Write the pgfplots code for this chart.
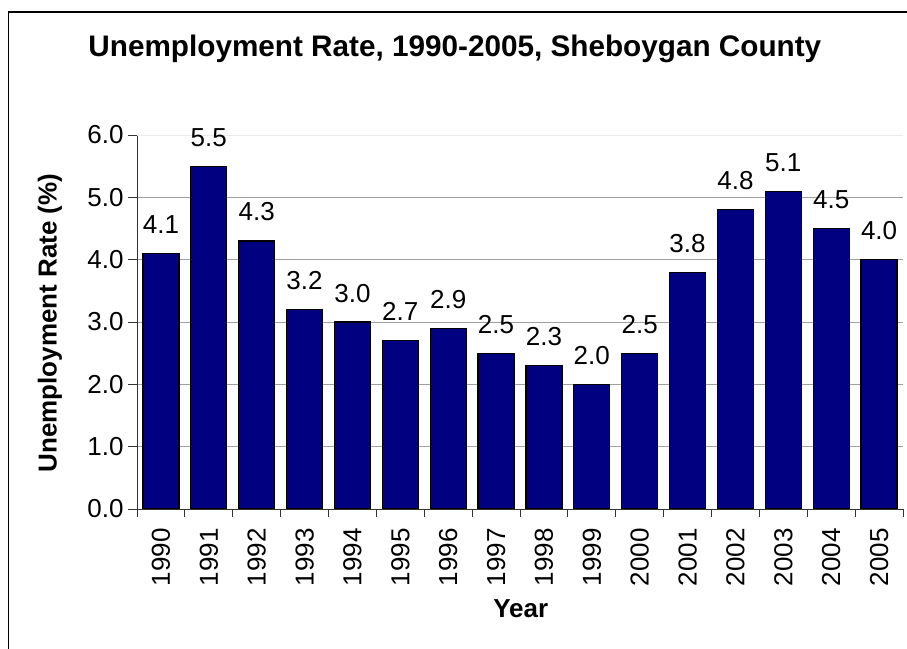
\documentclass[border=0pt]{standalone}
\usepackage{pgfplots}
\pgfplotsset{compat=1.18}
\usepackage{fontspec}
\setmainfont{Liberation Sans}
\newfontfamily\captionserif{Liberation Serif}
\definecolor{barblue}{HTML}{000080}
\definecolor{gridgray}{HTML}{A0A0A0}

\begin{document}
\begin{tikzpicture}
\useasboundingbox (0,0) rectangle (907bp,649bp);

% cut-off document caption above the chart frame
\node[anchor=base west, inner sep=0pt, font=\captionserif\bfseries\fontsize{32.6bp}{36bp}\selectfont]
  at (28bp,666bp) {Figure 1: Unemployment Rate, 1990-2005, Sheboygan County};

% chart frame (right and bottom sides fall outside the page)
\draw[line width=1.4bp] (8.5bp,-20bp) -- (8.5bp,637bp) -- (940bp,637bp);

\begin{axis}[
    at={(137bp,140bp)}, anchor=south west,
    scale only axis,
    width=766bp, height=374bp,
    xmin=-0.5, xmax=15.5,
    ymin=0, ymax=6,
    axis x line*=bottom, axis y line*=left,
    axis line style={black!80, line width=0.8bp},
    ybar, bar width=36bp,
    xtick={0,...,15},
    xticklabels={1990,1991,1992,1993,1994,1995,1996,1997,1998,1999,2000,2001,2002,2003,2004,2005},
    x tick label style={rotate=90, anchor=east, font=\fontsize{26bp}{30bp}\selectfont},
    xticklabel shift=7bp,
    minor xtick={-0.5,0.5,...,15.5},
    ytick={0,...,5},
    extra y ticks={6},
    extra y tick style={grid style={black!8, line width=0.8bp}},
    y tick label style={font=\fontsize{26bp}{30bp}\selectfont},
    yticklabel shift=1bp,
    yticklabel style={/pgf/number format/.cd, fixed, fixed zerofill, precision=1, assume math mode=true},
    tick align=outside,
    major tick length=9bp,
    minor tick length=8bp,
    xtick style={draw=none},
    minor x tick style={draw=black!80, line width=0.8bp},
    ytick style={black!80, line width=0.8bp},
    ymajorgrids,
    grid style={gridgray, line width=0.8bp},
    title={Unemployment Rate, 1990-2005, Sheboygan County},
    title style={at={(rel axis cs:0.415,1.195)}, anchor=base,
        font=\bfseries\fontsize{29.7bp}{34bp}\selectfont},
    xlabel={Year},
    xlabel style={at={(rel axis cs:0.501,-0.291)}, anchor=base,
        font=\bfseries\fontsize{26bp}{30bp}\selectfont},
    ylabel={Unemployment Rate (\%)},
    ylabel style={at={(rel axis cs:-0.1136,0.497)}, anchor=center,
        font=\bfseries\fontsize{26bp}{30bp}\selectfont},
    nodes near coords,
    nodes near coords style={anchor=base, yshift=20bp, inner sep=0pt,
        font=\fontsize{26bp}{30bp}\selectfont,
        /pgf/number format/.cd, fixed, fixed zerofill, precision=1, assume math mode=true},
]
\addplot[fill=barblue, draw=black, line width=1.2bp] coordinates {
    (0,4.1) (1,5.5) (2,4.3) (3,3.2) (4,3.0) (5,2.7) (6,2.9) (7,2.5)
    (8,2.3) (9,2.0) (10,2.5) (11,3.8) (12,4.8) (13,5.1) (14,4.5) (15,4.0)
};
\end{axis}
\end{tikzpicture}
\end{document}
